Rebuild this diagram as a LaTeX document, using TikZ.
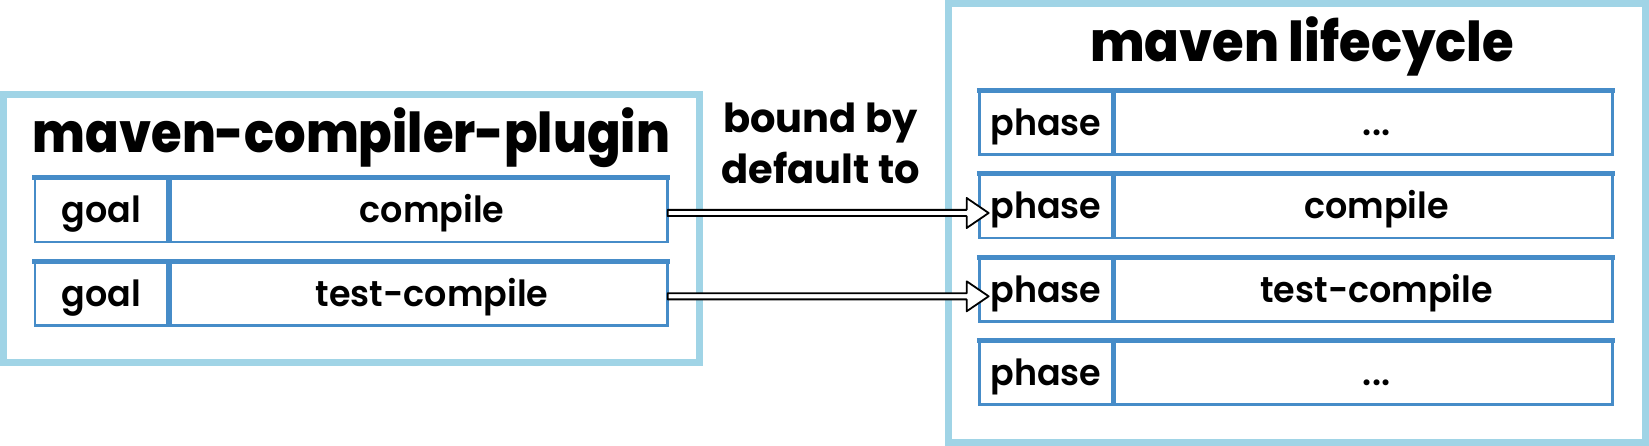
\documentclass[tikz,border=0pt]{standalone}
\usepackage{fontspec}
\setmainfont{Poppins}
\newfontfamily\titlefontA{Poppins}[UprightFont=* ExtraBold, FakeStretch=0.9]
\newfontfamily\titlefontB{Poppins}[UprightFont=* ExtraBold, FakeStretch=0.93]
\newfontfamily\cellfont{Poppins}[UprightFont=* SemiBold, FakeStretch=0.97]
\newfontfamily\midfont{Poppins}[UprightFont=* Bold]
\usetikzlibrary{calc}
\definecolor{outerblue}{HTML}{A0D4E6}
\definecolor{rowblue}{HTML}{468CC8}
\begin{document}
\begin{tikzpicture}[x=1pt,y=-1pt,
  outerbox/.style={draw=outerblue, line width=7pt, rectangle, inner sep=0pt},
  cell/.style={draw=rowblue, line width=2.7pt, rectangle, inner sep=0pt,
     minimum height=63.9pt, text height=26pt, text depth=0pt,
     font=\cellfont\fontsize{36}{40}\selectfont},
  labcell/.style={cell, minimum width=132.7pt},
  valcell/.style={cell, minimum width=497.2pt},
  topbar/.style={draw=rowblue, line width=5pt},
  titletxt/.style={anchor=base, inner sep=0pt},
  titleA/.style={titletxt, font=\titlefontA\fontsize{55}{60}\selectfont},
  titleB/.style={titletxt, font=\titlefontB\fontsize{55}{60}\selectfont},
  midtxt/.style={anchor=base, inner sep=0pt, font=\midfont\fontsize{40}{44}\selectfont},
  bigarrow/.style={draw=black, line width=1.8pt, fill=white, line join=round,
    to path={let \p1=(\tikztostart), \p2=(\tikztotarget) in
      (\x1-1.3pt,\y1+0.1pt) -- (\x2-11.6pt,\y1+0.1pt) -- (\x2-11.6pt,\y1+12pt)
      -- (\x2+10.4pt,\y1-3pt) -- (\x2-11.6pt,\y1-18pt) -- (\x2-11.6pt,\y1-6.1pt)
      -- (\x1-1.3pt,\y1-6.1pt) -- cycle}}
]
\useasboundingbox (0,0) rectangle (1649,446);
% outer boxes
\node[outerbox, minimum width=696pt, minimum height=267.5pt] (plugin) at (351.5,228.75) {};
\node[outerbox, minimum width=697pt, minimum height=439pt] (lifecycle) at (1297,223) {};
% titles
\node[titleA] (ptitle) at (351.5,152.7) {maven-compiler-plugin};
\node[titleB] (ltitle) at (1302,61.7) {maven lifecycle};
\node[midtxt] (mid1) at (820.5,133) {bound by};
\node[midtxt] (mid2) at (820.5,184) {default to};
% plugin rows
\node[labcell] (g1) at (101.35,210) {goal};
\node[valcell, anchor=west] (c1) at (g1.east) {\hspace*{26pt}compile};
\node[labcell] (g2) at (101.35,293.3) {goal};
\node[valcell, anchor=west] (c2) at (g2.east) {\hspace*{26pt}test-compile};
% lifecycle rows
\node[labcell] (p1) at (1045.95,122.6) {phase};
\node[valcell, anchor=west] (v1) at (p1.east) {\hspace*{26pt}...};
\node[labcell] (p2) at (1045.95,206) {phase};
\node[valcell, anchor=west] (v2) at (p2.east) {\hspace*{26pt}compile};
\node[labcell] (p3) at (1045.95,289.3) {phase};
\node[valcell, anchor=west] (v3) at (p3.east) {\hspace*{26pt}test-compile};
\node[labcell] (p4) at (1045.95,372.6) {phase};
\node[valcell, anchor=west] (v4) at (p4.east) {\hspace*{26pt}...};
% thick top edges
\foreach \a/\b in {g1/c1,g2/c2,p1/v1,p2/v2,p3/v3,p4/v4}{
  \draw[topbar] ([yshift=-1.15pt,xshift=-1.35pt]\a.north west) -- ([yshift=-1.15pt,xshift=1.35pt]\b.north east);
}
% arrows
\draw[bigarrow] (c1.east) to (p2.west);
\draw[bigarrow] (c2.east) to (p3.west);
\end{tikzpicture}
\end{document}
